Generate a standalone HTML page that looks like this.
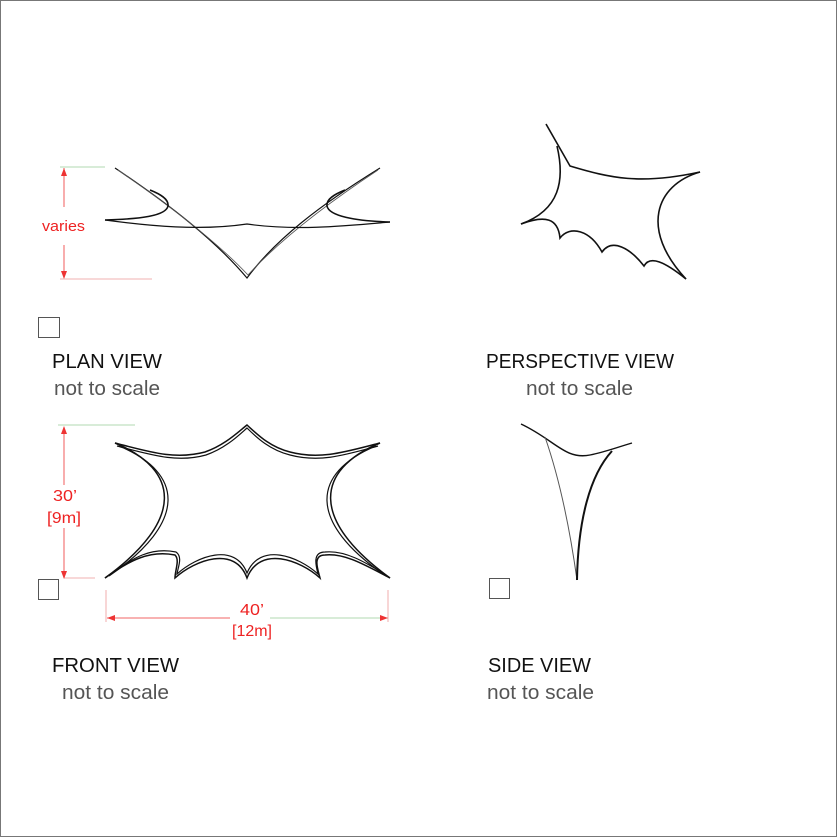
<!DOCTYPE html>
<html><head><meta charset="utf-8"><style>
html,body{margin:0;padding:0;background:#fff}
svg{display:block}
text{font-family:"Liberation Sans",sans-serif}
</style></head><body>
<svg width="838" height="838" viewBox="0 0 838 838" xmlns="http://www.w3.org/2000/svg">
<rect x="0.5" y="0.5" width="836" height="836" fill="#fff" stroke="#777" stroke-width="1"/>

<!-- PLAN VIEW -->
<g fill="none" stroke="#111" stroke-width="1.2">
  <path d="M115,168 C170,205 215,240 247,278 C275,240 320,205 380,168"/>
  <path d="M118,170 C172,207 218,243 248,275 C277,243 322,207 378,170" stroke="#555" stroke-width="0.8"/>
  <path d="M105,220 C140,219 166,216 168,206 C169,199 160,194 150,190" stroke-width="1.6"/>
  <path d="M390,222 C355,221 329,216 327,206 C326,199 335,194 345,190" stroke-width="1.6"/>
  <path d="M105,220 C150,226 200,231 247,224 C295,231 345,226 390,222"/>
</g>
<g stroke="#e33" fill="none" stroke-width="0.8">
  <line x1="64" y1="168" x2="64" y2="207"/>
  <line x1="64" y1="245" x2="64" y2="278"/>
  <line x1="60" y1="167" x2="105" y2="167" stroke="#9c9"/>
  <line x1="60" y1="279" x2="152" y2="279" stroke="#e99"/>
</g>
<path d="M64,168 l-3,8 h6z M64,279 l-3,-8 h6z" fill="#e33"/>
<text x="42" y="231" font-size="15" fill="#e22" textLength="43" lengthAdjust="spacingAndGlyphs">varies</text>
<rect x="38.5" y="317.5" width="21" height="20" fill="none" stroke="#555"/>
<text x="52" y="368" font-size="20" fill="#111" textLength="110" lengthAdjust="spacingAndGlyphs">PLAN VIEW</text>
<text x="54" y="395" font-size="20" fill="#555" textLength="106" lengthAdjust="spacingAndGlyphs">not to scale</text>

<!-- PERSPECTIVE VIEW -->
<g fill="none" stroke="#111" stroke-width="1.6">
  <path d="M546,124 L570,166 C610,178 640,185 700,172"/>
  <path d="M557,146 C565,180 560,210 521,224"/>
  <path d="M700,172 C655,185 640,230 686,279"/>
  <path d="M521,224 C545,215 558,218 560,238 C570,225 590,230 602,252 C612,238 630,248 644,266 C650,255 665,262 686,279"/>
</g>
<text x="486" y="368" font-size="20" fill="#111" textLength="188" lengthAdjust="spacingAndGlyphs">PERSPECTIVE VIEW</text>
<text x="526" y="395" font-size="20" fill="#555" textLength="107" lengthAdjust="spacingAndGlyphs">not to scale</text>

<!-- FRONT VIEW -->
<g fill="none" stroke="#111" stroke-width="1.5">
  <path d="M115,443 C150,452 175,460 205,452 C225,445 238,432 247,425 C258,435 270,447 290,452 C320,460 345,452 380,443"/>
  <path d="M117,446 C152,455 177,463 206,455 C226,448 239,435 247,428 C257,438 270,450 290,455 C320,463 345,455 378,446" stroke-width="1.2"/>
  <path d="M115,443 C180,470 185,520 105,578"/>
  <path d="M119,446 C184,473 188,522 109,576" stroke-width="1.2"/>
  <path d="M380,443 C315,470 310,520 390,578"/>
  <path d="M376,446 C311,473 307,522 386,576" stroke-width="1.2"/>
  <path d="M105,578 C130,560 150,550 175,555 C180,560 175,570 175,578 C195,560 235,545 247,578 C260,545 300,560 320,578 C318,570 312,555 325,555 C345,553 365,565 390,578"/>
  <path d="M110,575 C133,557 152,547 176,552 C183,557 178,567 177,574 C197,556 235,542 247,573 C260,542 298,556 318,574 C316,566 312,552 325,552 C345,550 365,562 386,575" stroke-width="1.2"/>
</g>
<g stroke="#e33" fill="none" stroke-width="0.8">
  <line x1="64" y1="427" x2="64" y2="485"/>
  <line x1="64" y1="528" x2="64" y2="578"/>
  <line x1="58" y1="425" x2="135" y2="425" stroke="#9c9"/>
  <line x1="64" y1="578" x2="95" y2="578" stroke="#e99"/>
  <line x1="107" y1="618" x2="230" y2="618"/>
  <line x1="270" y1="618" x2="388" y2="618" stroke="#9c9"/>
  <line x1="106" y1="590" x2="106" y2="622" stroke="#e99"/>
  <line x1="388" y1="590" x2="388" y2="622" stroke="#e99"/>
</g>
<path d="M64,426 l-3,8 h6z M64,579 l-3,-8 h6z M107,618 l8,-3 v6z M388,618 l-8,-3 v6z" fill="#e33"/>
<text x="53" y="501" font-size="16" fill="#e22" textLength="24" lengthAdjust="spacingAndGlyphs">30’</text>
<text x="47" y="523" font-size="16" fill="#e22" textLength="34" lengthAdjust="spacingAndGlyphs">[9m]</text>
<text x="240" y="615" font-size="16" fill="#e22" textLength="24" lengthAdjust="spacingAndGlyphs">40’</text>
<text x="232" y="636" font-size="16" fill="#e22" textLength="40" lengthAdjust="spacingAndGlyphs">[12m]</text>
<rect x="38.5" y="579.5" width="20" height="20" fill="none" stroke="#555"/>
<text x="52" y="672" font-size="20" fill="#111" textLength="127" lengthAdjust="spacingAndGlyphs">FRONT VIEW</text>
<text x="62" y="699" font-size="20" fill="#555" textLength="107" lengthAdjust="spacingAndGlyphs">not to scale</text>

<!-- SIDE VIEW -->
<g fill="none" stroke="#111" stroke-width="1.4">
  <path d="M521,424 C555,440 565,460 590,455 C605,452 615,448 632,443"/>
  <path d="M545,437 C560,480 570,530 577,580" stroke="#555" stroke-width="1"/>
  <path d="M612,451 C590,475 578,520 577,580" stroke-width="2"/>
</g>
<rect x="489.5" y="578.5" width="20" height="20" fill="none" stroke="#555"/>
<text x="488" y="672" font-size="20" fill="#111" textLength="103" lengthAdjust="spacingAndGlyphs">SIDE VIEW</text>
<text x="487" y="699" font-size="20" fill="#555" textLength="107" lengthAdjust="spacingAndGlyphs">not to scale</text>
</svg>
</body></html>
